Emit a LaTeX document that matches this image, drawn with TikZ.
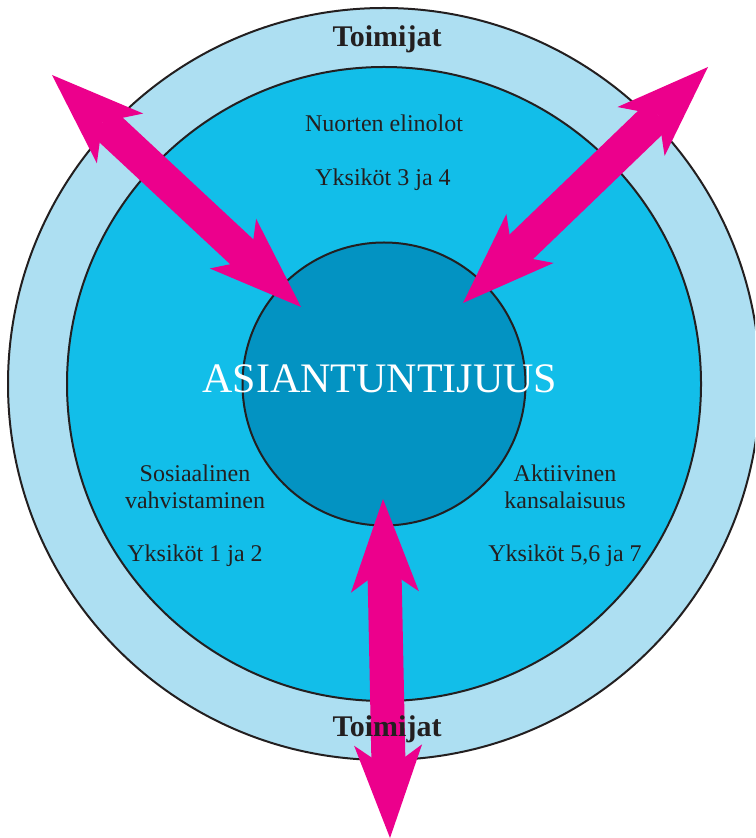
\documentclass[tikz,border=0pt]{standalone}
\usepackage{fontspec}
\setmainfont{Liberation Serif}
\usetikzlibrary{arrows.meta}
\definecolor{ringblue}{RGB}{173,223,242}
\definecolor{midblue}{RGB}{18,190,233}
\definecolor{coreblue}{RGB}{3,147,194}
\definecolor{hotpink}{RGB}{236,0,140}
\definecolor{inkgray}{RGB}{35,31,32}
\tikzset{
  disc/.style={draw=inkgray, line width=1pt},
  twoway/.style={draw=hotpink, line width=17pt,
    {Stealth[length=46.5pt,width=34pt,inset=12pt,line width=0pt]}-{Stealth[length=46.5pt,width=34pt,inset=12pt,line width=0pt]}},
  ringtext/.style={text=inkgray, font=\fontsize{12}{13.5}\selectfont, anchor=base, inner sep=0pt},
  toimtext/.style={text=inkgray, font=\fontsize{15}{17}\selectfont\bfseries, anchor=base, inner sep=0pt},
  coretext/.style={text=white, font=\fontsize{21}{24}\selectfont, anchor=base, inner sep=0pt}
}
\begin{document}
\begin{tikzpicture}[x=0.5pt, y=-0.5pt]
  \clip (0,0) rectangle (755,838);
  % three rings
  \draw[disc, fill=ringblue] (384,384) circle (188pt);
  \draw[disc, fill=midblue] (384,384) circle (158.5pt);
  \draw[disc, fill=coreblue] (384,384) circle (70.75pt);
  % arrow ends
  \coordinate (nw) at (52,75);
  \coordinate (nwin) at (301,307);
  \coordinate (ne) at (708,67);
  \coordinate (nein) at (463,303);
  \coordinate (sin) at (383,499);
  \coordinate (s) at (390,838);
  \draw[twoway] (nw) -- (nwin);
  \draw[twoway] (ne) -- (nein);
  \draw[twoway] (sin) -- (s);
  % texts
  \node[toimtext] (toimtop) at (387,47) {Toimijat};
  \node[toimtext] (toimbot) at (387,736) {Toimijat};
  \node[ringtext] (nuoret) at (384,132) {Nuorten elinolot};
  \node[ringtext] (yks34) at (383,186) {Yksiköt 3 ja 4};
  \node[coretext] (core) at (380,393) {ASIANTUNTIJUUS};
  \node[ringtext] (sos1) at (195,481) {Sosiaalinen};
  \node[ringtext] (sos2) at (195,508) {vahvistaminen};
  \node[ringtext] (yks12) at (195,561) {Yksiköt 1 ja 2};
  \node[ringtext] (akt1) at (565,481) {Aktiivinen};
  \node[ringtext] (akt2) at (565,508) {kansalaisuus};
  \node[ringtext] (yks567) at (565,561) {Yksiköt 5,6 ja 7};
\end{tikzpicture}
\end{document}
